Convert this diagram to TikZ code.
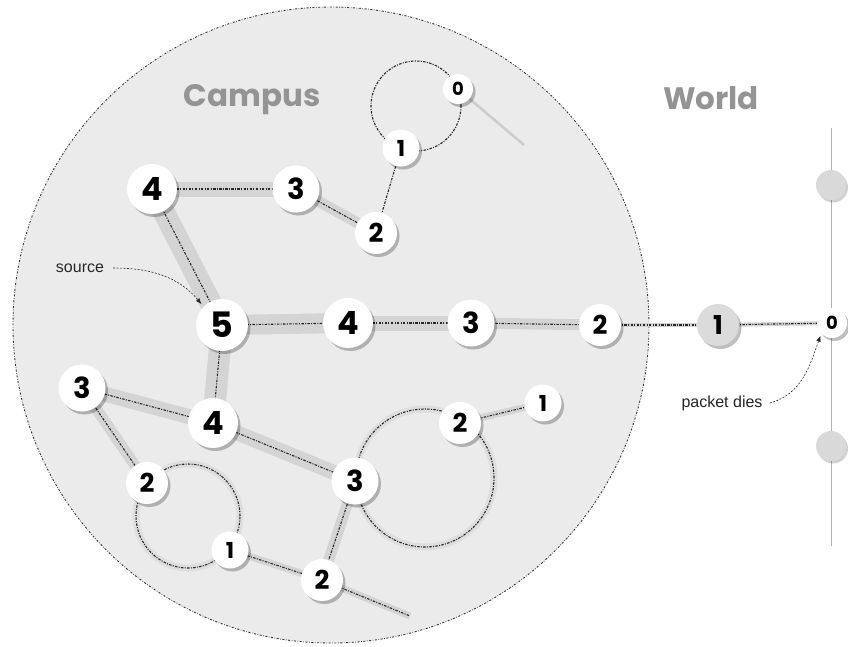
\documentclass[tikz,border=0pt]{standalone}
\usepackage{fontspec}
\setmainfont{Poppins}
\newfontfamily\labelfont{Liberation Sans}
\usetikzlibrary{shadows,arrows.meta}
\pgfdeclarelayer{bg}
\pgfdeclarelayer{bands}
\pgfdeclarelayer{lines}
\pgfsetlayers{bg,bands,lines,main}
\tikzset{
  hop/.style={circle, fill=white, inner sep=0pt, text=black,
    drop shadow={shadow xshift=2.5pt, shadow yshift=-3pt, opacity=0.25, fill=black}},
  hA/.style={hop, minimum size=52pt, font=\fontsize{35}{35}\selectfont\bfseries},
  hB/.style={hop, minimum size=50pt, font=\fontsize{32}{32}\selectfont\bfseries},
  hC/.style={hop, minimum size=47pt, font=\fontsize{29}{29}\selectfont\bfseries},
  hD/.style={hop, minimum size=42pt, font=\fontsize{26}{26}\selectfont\bfseries},
  hE/.style={hop, minimum size=37pt, font=\fontsize{22}{22}\selectfont\bfseries},
  hF/.style={hop, minimum size=30pt, font=\fontsize{18}{18}\selectfont\bfseries},
  greyhop/.style={fill=black!14},
  worldnode/.style={circle, fill=black!15, minimum size=30pt, inner sep=0pt,
    drop shadow={shadow xshift=2pt, shadow yshift=-2.5pt, opacity=0.18, fill=black}},
  dotline/.style={line width=1.1pt, black!85, dash pattern=on 2.5pt off 1.3pt on 1pt off 1.3pt},
  band/.style={line width=#1, black!17},
  loopband/.style={line width=7pt, black!13},
  ann/.style={black!85, line width=0.6pt, dash pattern=on 2pt off 1.5pt,
    -{Latex[length=6pt,width=4.5pt]}},
  lbl/.style={font=\labelfont\fontsize{16}{16}\selectfont, text=black!85, inner sep=1pt},
  title/.style={font=\fontsize{31}{31}\selectfont\bfseries, text=black!42},
  campusedge/.style={black!80, line width=0.9pt, dash pattern=on 2pt off 1.6pt on 0.6pt off 1.6pt},
  worldline/.style={black!30, line width=0.9pt}
}
\begin{document}
\begin{tikzpicture}[x=1pt,y=1pt]
\useasboundingbox (0,0) rectangle (848,-646);
% nodes
\node[hA] (n5) at (222,-325) {5};
\node[hB] (a4) at (152,-189) {4};
\node[hC] (a3) at (296,-189) {3};
\node[hD] (a2) at (376,-233) {2};
\node[hE] (a1) at (401,-148) {1};
\node[hF] (a0) at (458,-89) {0};
\node[hB] (b4) at (348,-323) {4};
\node[hC] (b3) at (471,-323) {3};
\node[hD] (b2) at (600,-325) {2};
\node[hD, greyhop] (b1) at (718,-325) {1};
\node[hF] (b0) at (832,-323) {0};
\node[hB] (c4) at (213,-423) {4};
\node[hC] (c3) at (82,-388) {3};
\node[hD] (c2) at (147,-483) {2};
\node[hE] (c1) at (230,-550) {1};
\node[hD] (e2) at (322,-580) {2};
\node[hC] (d3) at (355,-481) {3};
\node[hD] (d2) at (460,-423) {2};
\node[hE] (d1) at (543,-403) {1};
\node[worldnode] (w1) at (831,-185) {};
\node[worldnode] (w2) at (831,-446) {};
\coordinate (wt) at (831,-128);
\coordinate (wb) at (831,-546);
\coordinate (endA) at (524,-145);
\coordinate (endE) at (410,-616);
\coordinate (loopA) at (416,-106);
\coordinate (loopC) at (188,-516);
\coordinate (loopD) at (425,-478);
% labels
\node[title] (campus) at (252,-100) {Campus};
\node[title] (world) at (711,-98) {World};
\node[lbl] (src) at (80,-268) {source};
\node[lbl] (pd) at (722,-403) {packet dies};
% background
\begin{pgfonlayer}{bg}
  \fill[white] (0,0) rectangle (848,-646);
  \fill[black!8] (331,-325) circle (318);
  \draw[campusedge] (331,-325) circle (318);
  \draw[worldline] (wt) -- (wb);
\end{pgfonlayer}
% bands
\begin{pgfonlayer}{bands}
  \draw[band=22pt] (n5.center) -- (a4.center);
  \draw[band=22pt] (n5.center) -- (c4.center);
  \draw[band=20pt] (n5.center) -- (b4.center);
  \draw[band=15pt] (a4.center) -- (a3.center);
  \draw[band=15pt] (b4.center) -- (b3.center);
  \draw[band=15pt] (c4.center) -- (c3.center);
  \draw[band=15pt] (c4.center) -- (d3.center);
  \draw[band=11pt] (a3.center) -- (a2.center);
  \draw[band=11pt] (b3.center) -- (b2.center);
  \draw[band=11pt] (c3.center) -- (c2.center);
  \draw[band=11pt] (d3.center) -- (e2.center);
  \draw[band=7pt] (e2.center) -- (endE);
  \draw[band=7pt] (d2.center) -- (d1.center);
  \draw[band=7pt] (c1.center) -- (e2.center);
  \draw[band=4pt] (b2.center) -- (b1.center);
  \draw[band=4pt] (b1.center) -- (b0.center);
  \draw[loopband] (loopC) circle (52);
  \draw[loopband] (loopD) circle (69);
  \draw[black!20, line width=2.5pt] (a0.center) -- (endA);
\end{pgfonlayer}
% dotted connectors
\begin{pgfonlayer}{lines}
  \draw[dotline] (n5.center) -- (a4.center);
  \draw[dotline] (n5.center) -- (c4.center);
  \draw[dotline] (n5.center) -- (b4.center);
  \draw[dotline] (a4.center) -- (a3.center);
  \draw[dotline] (b4.center) -- (b3.center);
  \draw[dotline] (c4.center) -- (c3.center);
  \draw[dotline] (c4.center) -- (d3.center);
  \draw[dotline] (a3.center) -- (a2.center);
  \draw[dotline] (b3.center) -- (b2.center);
  \draw[dotline] (c3.center) -- (c2.center);
  \draw[dotline] (d3.center) -- (e2.center);
  \draw[dotline] (e2.center) -- (endE);
  \draw[dotline] (d2.center) -- (d1.center);
  \draw[dotline] (c1.center) -- (e2.center);
  \draw[dotline] (a2.center) -- (a1.center);
  \draw[dotline] (b2.center) -- (b1.center);
  \draw[dotline] (b1.center) -- (b0.center);
  \draw[dotline] (loopA) circle (45);
  \draw[dotline] (loopC) circle (52);
  \draw[dotline] (loopD) circle (69);
\end{pgfonlayer}
% annotation arrows
\draw[ann, shorten >=3pt] ([xshift=8pt]src.east) to[out=0, in=130] (n5.north west);
\draw[ann, shorten >=2pt] ([xshift=6pt]pd.east) to[out=15, in=-110] (b0.south west);
\end{tikzpicture}
\end{document}
